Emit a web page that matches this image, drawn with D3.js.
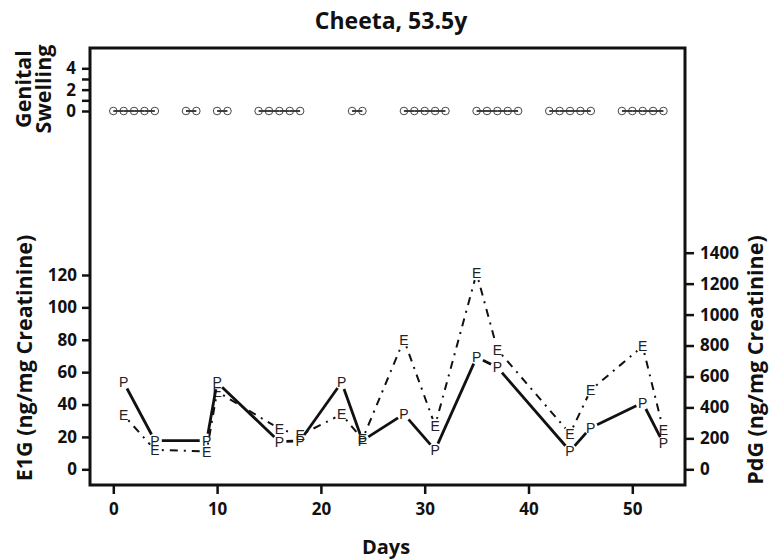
<!DOCTYPE html>
<meta charset="utf-8">
<body>
<script src="https://cdn.jsdelivr.net/npm/d3@7"></script>
<style>
    html, body {
        margin: 0;
        background: #fff;
    }
    text {
        font-family: "Open Sans", Lato, sans-serif;
        font-weight: bold;
        fill: #111;
    }
    .mark {
        font-family: "Liberation Sans", Arial, sans-serif;
        font-weight: normal;
        font-size: 14px;
        fill: #222;
    }
</style>
<script>
var width = 777,
    height = 560;

// genital swelling scores (all zero on sampled days)
var swellDays = [0, 1, 2, 3, 4, 7, 8, 10, 11, 14, 15, 16, 17, 18, 23, 24,
    28, 29, 30, 31, 32, 35, 36, 37, 38, 39, 42, 43, 44, 45, 46, 49, 50, 51, 52, 53];
var swellScore = swellDays.map(function() { return 0; });

// hormone samples
var hormoneDays = [1, 4, 9, 10, 16, 18, 22, 24, 28, 31, 35, 37, 44, 46, 51, 53];
var e1g = [33.5, 12, 11, 48, 25, 21, 34, 18.5, 80, 27, 121, 74, 22, 49, 76, 24];
var pdg = [562, 185, 185, 562, 178, 185, 562, 185, 357, 125, 724, 659, 118, 269, 430, 168];

var xTicks = [0, 10, 20, 30, 40, 50];
var e1gTicks = [0, 20, 40, 60, 80, 100, 120];
var pdgTicks = [0, 200, 400, 600, 800, 1000, 1200, 1400];
var swellTicks = [0, 1, 2, 3, 4];

var box = {left: 90, right: 685, top: 48, bottom: 485};

var x = d3.scaleLinear().domain([0, 50]).range([113.3, 632.3]),
    yL = d3.scaleLinear().domain([0, 120]).range([469.3, 275]),
    yR = d3.scaleLinear().domain([0, 1400]).range([469.3, 252.7]),
    yG = d3.scaleLinear().domain([0, 4]).range([111, 68.3]);

var svg = d3.select("body").append("svg")
    .attr("width", width)
    .attr("height", height);

function styleAxis(g, size) {
    g.select(".domain").remove();
    g.selectAll(".tick line").attr("stroke", "#111").attr("stroke-width", 2.5);
    g.selectAll(".tick text")
        .attr("fill", "#111")
        .style("font-family", "'Open Sans', sans-serif")
        .style("font-weight", "bold")
        .style("font-size", size + "px");
}

svg.append("g")
    .attr("transform", "translate(0," + box.bottom + ")")
    .call(d3.axisBottom(x).tickValues(xTicks).tickSize(9).tickPadding(9))
    .call(styleAxis, 17);

svg.append("g")
    .attr("transform", "translate(" + box.left + ",0)")
    .call(d3.axisLeft(yL).tickValues(e1gTicks).tickSize(8).tickPadding(5))
    .call(styleAxis, 17);

svg.append("g")
    .attr("transform", "translate(" + box.right + ",0)")
    .call(d3.axisRight(yR).tickValues(pdgTicks).tickSize(9).tickPadding(6)
        .tickFormat(d3.format("d")))
    .call(styleAxis, 17);

svg.append("g")
    .attr("transform", "translate(" + box.left + ",0)")
    .call(d3.axisLeft(yG).tickValues(swellTicks).tickSize(8).tickPadding(6)
        .tickFormat(function(d) { return d % 2 ? "" : d; }))
    .call(styleAxis, 17);

svg.append("rect")
    .attr("x", box.left)
    .attr("y", box.top)
    .attr("width", box.right - box.left)
    .attr("height", box.bottom - box.top)
    .attr("fill", "none")
    .attr("stroke", "#111")
    .attr("stroke-width", 3);

// swelling: circles joined within runs of consecutive days
var runs = [];
swellDays.forEach(function(d, i) {
    if (i > 0 && d - swellDays[i - 1] === 1)
        runs.push([i - 1, i]);
});
svg.append("g").selectAll("line")
    .data(runs)
    .enter().append("line")
    .attr("x1", function(r) { return x(swellDays[r[0]]); })
    .attr("x2", function(r) { return x(swellDays[r[1]]); })
    .attr("y1", function(r) { return yG(swellScore[r[0]]); })
    .attr("y2", function(r) { return yG(swellScore[r[1]]); })
    .attr("stroke", "#111")
    .attr("stroke-width", 1.6);

svg.append("g").selectAll("circle")
    .data(swellDays)
    .enter().append("circle")
    .attr("cx", function(d) { return x(d); })
    .attr("cy", function(d, i) { return yG(swellScore[i]); })
    .attr("r", 3.8)
    .attr("fill", "none")
    .attr("stroke", "#333")
    .attr("stroke-width", 0.9);

// lines with gaps around the letter markers
function gapped(vals, y, gap) {
    var segs = [];
    for (var i = 1; i < vals.length; i++) {
        var x1 = x(hormoneDays[i - 1]), y1 = y(vals[i - 1]),
            x2 = x(hormoneDays[i]), y2 = y(vals[i]),
            dx = x2 - x1, dy = y2 - y1,
            len = Math.sqrt(dx * dx + dy * dy);
        if (len <= 2 * gap) continue;
        var ux = dx / len, uy = dy / len;
        segs.push([x1 + ux * gap, y1 + uy * gap, x2 - ux * gap, y2 - uy * gap]);
    }
    return segs;
}

function drawSeries(vals, y, letter, width, dash) {
    var g = svg.append("g");
    g.selectAll("line")
        .data(gapped(vals, y, 7))
        .enter().append("line")
        .attr("x1", function(s) { return s[0]; })
        .attr("y1", function(s) { return s[1]; })
        .attr("x2", function(s) { return s[2]; })
        .attr("y2", function(s) { return s[3]; })
        .attr("stroke", "#111")
        .attr("stroke-width", width)
        .attr("stroke-dasharray", dash);
    g.selectAll("text")
        .data(vals)
        .enter().append("text")
        .attr("class", "mark")
        .attr("x", function(d, i) { return x(hormoneDays[i]); })
        .attr("y", function(d) { return y(d); })
        .attr("dy", "0.36em")
        .attr("text-anchor", "middle")
        .text(letter);
}

drawSeries(e1g, yL, "E", 2, "2,6,8,6");
drawSeries(pdg, yR, "P", 2.8, null);

// titles
svg.append("text")
    .attr("x", 391)
    .attr("y", 29)
    .attr("text-anchor", "middle")
    .style("font-size", "23px")
    .text("Cheeta, 53.5y");

svg.append("text")
    .attr("x", 386)
    .attr("y", 554)
    .attr("text-anchor", "middle")
    .style("font-size", "20px")
    .text("Days");

svg.append("text")
    .attr("transform", "translate(32,358) rotate(-90)")
    .attr("text-anchor", "middle")
    .style("font-size", "21.5px")
    .text("E1G (ng/mg Creatinine)");

svg.append("text")
    .attr("transform", "translate(763,360) rotate(-90)")
    .attr("text-anchor", "middle")
    .style("font-size", "21.5px")
    .text("PdG (ng/mg Creatinine)");

svg.append("text")
    .attr("transform", "translate(31,89) rotate(-90)")
    .attr("text-anchor", "middle")
    .style("font-size", "21.5px")
    .text("Genital");

svg.append("text")
    .attr("transform", "translate(51,89) rotate(-90)")
    .attr("text-anchor", "middle")
    .style("font-size", "21.5px")
    .text("Swelling");
</script>
